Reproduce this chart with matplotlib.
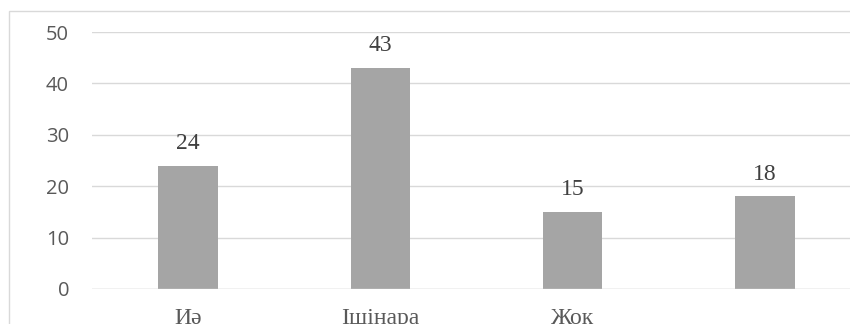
import matplotlib
matplotlib.use("Agg")
import matplotlib.pyplot as plt
from matplotlib.patches import Rectangle

# data
categories = ["Иә", "Іщінара", "Жок", ""]
values = [24, 43, 15, 18]
yticks = [0, 10, 20, 30, 40, 50]

fig = plt.figure(figsize=(8.5, 3.24), dpi=100)

# chart area border (runs past the right and bottom edges)
fig.patches.append(Rectangle((8.5 / 850, -0.2), 1.2, 1.2 - 10.5 / 324,
                             transform=fig.transFigure, fill=False,
                             edgecolor="#d9d9d9", linewidth=1.0))

ax = fig.add_axes([92 / 850, 1 - 289 / 324, 769 / 850, 257 / 324])
x = range(len(categories))
bars = ax.bar(x, values, width=0.31, color="#a5a5a5", zorder=3)

ax.set_xlim(-0.5, len(categories) - 0.5)
ax.set_ylim(0, 50)
ax.set_yticks(yticks)
ax.yaxis.grid(True, color="#d9d9d9", linewidth=1.0, zorder=0)
for s in ax.spines.values():
    s.set_visible(False)
ax.axhline(0, color="#d9d9d9", linewidth=1.0, zorder=4)

ax.tick_params(axis="y", length=0, pad=16.5, labelsize=14.5, labelcolor="#595959")
ax.tick_params(axis="x", length=0, pad=13.5, labelsize=17, labelcolor="#595959")
for t in ax.get_yticklabels():
    t.set_fontfamily("Open Sans")
ax.set_xticks(list(x))
ax.set_xticklabels(categories, fontfamily="Liberation Serif")

for b, v in zip(bars, values):
    ax.annotate(str(v), (b.get_x() + b.get_width() / 2, v),
                xytext=(0, 12.2), textcoords="offset points",
                ha="center", va="baseline", fontsize=17,
                fontfamily="Liberation Serif", color="#404040")

fig.savefig("out.png", dpi=100)
